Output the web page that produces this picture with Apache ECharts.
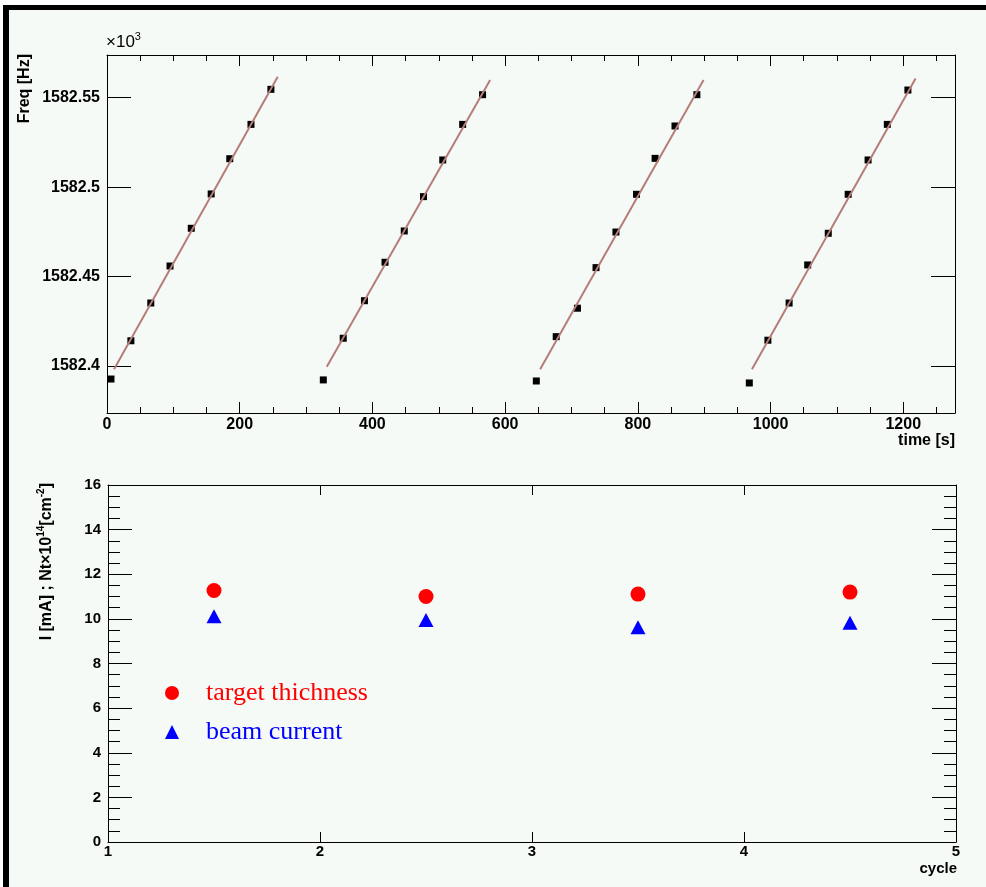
<!DOCTYPE html>
<html>
<head>
<meta charset="utf-8">
<script src="https://cdn.jsdelivr.net/npm/echarts@6/dist/echarts.min.js"></script>
<style>
  html, body { margin: 0; padding: 0; background: #fff; }
  #chart { width: 986px; height: 887px; }
</style>
</head>
<body>
<div id="chart"></div>
<script>
// top pad: frequency vs time, 4 cycles (values in kHz, axis shows x10^3 Hz)
const time1 = [6, 36, 66, 95, 127, 157, 185, 217, 247];
const freq1 = [1582.3927, 1582.4141, 1582.4352, 1582.4559, 1582.4770, 1582.4962, 1582.5159, 1582.5351, 1582.5547];
const time2 = [326, 356, 388, 419, 448, 477, 506, 536, 566];
const freq2 = [1582.3922, 1582.4155, 1582.4365, 1582.4580, 1582.4755, 1582.4947, 1582.5152, 1582.5351, 1582.5517];
const time3 = [647, 677, 709, 737, 767, 798, 826, 856, 889];
const freq3 = [1582.3916, 1582.4164, 1582.4323, 1582.4550, 1582.4749, 1582.4960, 1582.5161, 1582.5342, 1582.5517];
const time4 = [968, 996, 1028, 1056, 1087, 1117, 1147, 1176, 1207];
const freq4 = [1582.3905, 1582.4144, 1582.4352, 1582.4565, 1582.4742, 1582.4960, 1582.5152, 1582.5351, 1582.5543];

// linear fit segments (start/end of each cycle)
const fitT0 = [10.6, 331.2, 652.8, 972.0];
const fitF0 = [1582.3982, 1582.3996, 1582.3982, 1582.3982];
const fitT1 = [257.3, 577.4, 899.0, 1218.6];
const fitF1 = [1582.5617, 1582.5599, 1582.5599, 1582.5608];

const timeTicks = [0, 200, 400, 600, 800, 1000, 1200];
const freqTicks = [1582.4, 1582.45, 1582.5, 1582.55];

// bottom pad: per cycle
const cycles = [1.5, 2.5, 3.5, 4.5];
const thickness = [11.27, 11.0, 11.11, 11.2];
const current = [10.12, 9.95, 9.62, 9.83];

const SANS = 'Liberation Sans';
const SERIF = 'Liberation Serif';
const FIT_COLOR = '#b67d77';

const timeMinor = [];
for (let v = 50; v < 1278; v += 50) if (v % 200 !== 0) timeMinor.push(v);
const freqMinor = [];
for (let k = 138; k <= 157; k++) {
    if (k % 5 !== 0) freqMinor.push(Math.round((1582 + k / 100) * 1000) / 1000);
}

const chart = echarts.init(document.getElementById('chart'));

const line = { show: true, onZero: false, lineStyle: { color: '#000', width: 1 } };
const noLine = { show: false, onZero: false };
const plain = v => String(v);

const topX = (position, values, len, showLine, labels) => ({
    type: 'value', gridIndex: 0, position, min: 0, max: 1278,
    axisLine: showLine ? line : noLine,
    axisTick: { show: true, inside: true, length: len, customValues: values, lineStyle: { color: '#000' } },
    axisLabel: labels ? { show: true, customValues: values, formatter: plain, margin: 4, color: '#000', fontFamily: SANS, fontWeight: 'bold', fontSize: 16 } : { show: false },
    splitLine: { show: false }
});
const topY = (position, values, len, showLine, labels) => ({
    type: 'value', gridIndex: 0, position, min: 1582.3737, max: 1582.5739,
    axisLine: showLine ? line : noLine,
    axisTick: { show: true, inside: true, length: len, customValues: values, lineStyle: { color: '#000' } },
    axisLabel: labels ? { show: true, customValues: values, formatter: plain, margin: 7, color: '#000', fontFamily: SANS, fontWeight: 'bold', fontSize: 16 } : { show: false },
    splitLine: { show: false }
});

const cycleSeries = [[time1, freq1], [time2, freq2], [time3, freq3], [time4, freq4]].map(([t, f]) => ({
    type: 'scatter', xAxisIndex: 0, yAxisIndex: 0, symbol: 'rect', symbolSize: 7,
    itemStyle: { color: '#000', opacity: 1 }, z: 3,
    data: t.map((x, i) => [x, f[i]])
}));

const fitSeries = fitT0.map((t0, i) => ({
    type: 'line', xAxisIndex: 0, yAxisIndex: 0, symbol: 'none', z: 4,
    lineStyle: { color: FIT_COLOR, width: 2 },
    data: [[t0, fitF0[i]], [fitT1[i], fitF1[i]]]
}));

const legendText = (color) => ({
    color, fontFamily: SERIF, fontSize: 26, lineHeight: 26, padding: [0, 0, 0, 22]
});

const option = {
    animation: false,
    backgroundColor: '#fff',
    grid: [
        { left: 107, top: 55, width: 848, height: 358 },
        { left: 108, top: 485, width: 848, height: 357 }
    ],
    xAxis: [
        topX('bottom', timeTicks, 11, true, true),
        topX('bottom', timeMinor, 6, false, false),
        topX('top', timeTicks, 11, true, false),
        topX('top', timeMinor, 6, false, false),
        {
            type: 'value', gridIndex: 1, position: 'bottom', min: 1, max: 5, interval: 1,
            axisLine: line,
            axisTick: { inside: true, length: 10, lineStyle: { color: '#000' } },
            axisLabel: { margin: 2, color: '#000', fontFamily: SANS, fontWeight: 'bold', fontSize: 15 },
            splitLine: { show: false }
        },
        {
            type: 'value', gridIndex: 1, position: 'top', min: 1, max: 5, interval: 1,
            axisLine: line,
            axisTick: { inside: true, length: 10, lineStyle: { color: '#000' } },
            axisLabel: { show: false },
            splitLine: { show: false }
        }
    ],
    yAxis: [
        topY('left', freqTicks, 24, true, true),
        topY('left', freqMinor, 12, false, false),
        topY('right', freqTicks, 24, true, false),
        topY('right', freqMinor, 12, false, false),
        {
            type: 'value', gridIndex: 1, position: 'left', min: 0, max: 16, interval: 2,
            axisLine: line,
            axisTick: { inside: true, length: 24, lineStyle: { color: '#000' } },
            minorTick: { show: true, splitNumber: 4, length: 12, lineStyle: { color: '#000' } },
            axisLabel: { margin: 7, color: '#000', fontFamily: SANS, fontWeight: 'bold', fontSize: 15 },
            splitLine: { show: false }
        },
        {
            type: 'value', gridIndex: 1, position: 'right', min: 0, max: 16, interval: 2,
            axisLine: line,
            axisTick: { inside: true, length: 24, lineStyle: { color: '#000' } },
            minorTick: { show: true, splitNumber: 4, length: 12, lineStyle: { color: '#000' } },
            axisLabel: { show: false },
            splitLine: { show: false }
        }
    ],
    legend: [
        {
            data: ['target thichness'], left: 165, top: 680, padding: 0,
            itemWidth: 14, itemHeight: 14, selectedMode: false,
            textStyle: legendText('#ff0000')
        },
        {
            data: ['beam current'], left: 165, top: 719, padding: 0,
            itemWidth: 14, itemHeight: 14, selectedMode: false,
            textStyle: legendText('#0000ff')
        }
    ],
    graphic: [
        { type: 'rect', z: -10, shape: { x: 3, y: 5, width: 983, height: 882 }, style: { fill: '#000' } },
        { type: 'rect', z: -9, shape: { x: 9, y: 10, width: 977, height: 877 }, style: { fill: '#f5faf7' } },
        {
            type: 'text', x: 106, y: 54, z: 10,
            style: {
                text: '×10{s|3}', fill: '#000', fontFamily: SANS, fontSize: 17,
                align: 'left', verticalAlign: 'bottom',
                rich: { s: { fontFamily: SANS, fontSize: 11, padding: [0, 0, 12, 0] } }
            }
        },
        {
            type: 'text', x: 25, y: 54, z: 10, rotation: Math.PI / 2,
            style: { text: 'Freq [Hz]', fill: '#000', fontFamily: SANS, fontWeight: 'bold', fontSize: 16, align: 'right', verticalAlign: 'middle' }
        },
        {
            type: 'text', x: 955, y: 441, z: 10,
            style: { text: 'time [s]', fill: '#000', fontFamily: SANS, fontWeight: 'bold', fontSize: 16, align: 'right', verticalAlign: 'middle' }
        },
        {
            type: 'text', x: 47, y: 483, z: 10, rotation: Math.PI / 2,
            style: {
                text: 'I [mA] ; Nt×10{s|14}[cm{s|-2}]', fill: '#000', fontFamily: SANS, fontWeight: 'bold', fontSize: 16,
                align: 'right', verticalAlign: 'middle',
                rich: { s: { fontFamily: SANS, fontWeight: 'bold', fontSize: 10, padding: [0, 0, 12, 0] } }
            }
        },
        {
            type: 'text', x: 957, y: 869, z: 10,
            style: { text: 'cycle', fill: '#000', fontFamily: SANS, fontWeight: 'bold', fontSize: 15, align: 'right', verticalAlign: 'middle' }
        }
    ],
    series: [
        ...cycleSeries,
        ...fitSeries,
        {
            name: 'target thichness', type: 'scatter', xAxisIndex: 4, yAxisIndex: 4,
            symbol: 'circle', symbolSize: 15, itemStyle: { color: '#ff0000', opacity: 1 },
            data: cycles.map((c, i) => [c, thickness[i]])
        },
        {
            name: 'beam current', type: 'scatter', xAxisIndex: 4, yAxisIndex: 4,
            symbol: 'triangle', symbolSize: [15, 14], itemStyle: { color: '#0000ff', opacity: 1 },
            data: cycles.map((c, i) => [c, current[i]])
        }
    ]
};

chart.setOption(option);
</script>
</body>
</html>
